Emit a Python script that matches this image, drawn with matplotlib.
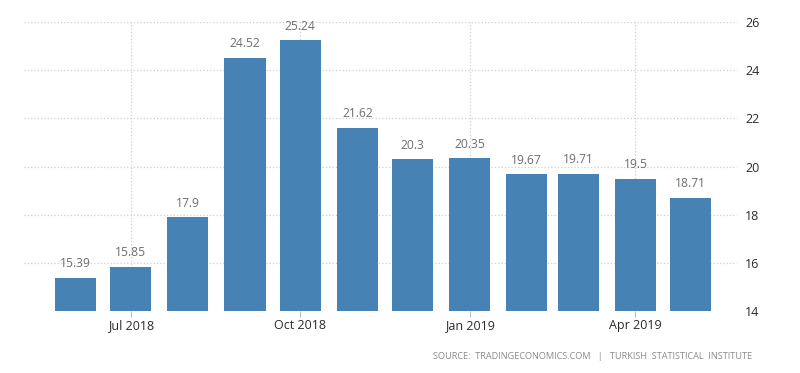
import numpy as np
import matplotlib.pyplot as plt
import matplotlib.dates as mdates
import datetime as dt

months = ["2018-06", "2018-07", "2018-08", "2018-09", "2018-10", "2018-11",
          "2018-12", "2019-01", "2019-02", "2019-03", "2019-04", "2019-05"]
inflation = [15.39, 15.85, 17.9, 24.52, 25.24, 21.62, 20.3, 20.35, 19.67, 19.71, 19.5, 18.71]
value_labels = ["15.39", "15.85", "17.9", "24.52", "25.24", "21.62", "20.3", "20.35",
                "19.67", "19.71", "19.5", "18.71"]
tick_months = ["2018-07", "2018-10", "2019-01", "2019-04"]
tick_labels = ["Jul 2018", "Oct 2018", "Jan 2019", "Apr 2019"]
y_ticks = [14, 16, 18, 20, 22, 24, 26]

plt.rcParams['font.family'] = ['Open Sans', 'DejaVu Sans']

dates = [dt.datetime.strptime(m, "%Y-%m") for m in months]
x = mdates.date2num(dates)
tx = mdates.date2num([dt.datetime.strptime(m, "%Y-%m") for m in tick_months])

fig = plt.figure(figsize=(8, 3.73), dpi=100)
ax = fig.add_axes([0.03, 0.166, 0.891, 0.775])

ax.bar(x, inflation, width=22.3, bottom=0, color='#4682b4', zorder=3)
for xi, v, lab in zip(x, inflation, value_labels):
    ax.text(xi, v + 0.3, lab, ha='center', va='bottom', fontsize=8.7, color='#6e6e6e', zorder=4)

ax.set_ylim(14, 26)
ax.set_xlim(x[0] - 28, x[-1] + 25)
ax.set_yticks(y_ticks)
ax.set_xticks(tx)
ax.set_xticklabels(tick_labels)
ax.yaxis.tick_right()
ax.grid(True, linestyle=':', color='#cfcfcf', linewidth=0.9, zorder=0)
for s in ax.spines.values():
    s.set_visible(False)
ax.tick_params(axis='x', length=4, color='#bbbbbb', labelsize=9, labelcolor='#2a2a2a', pad=2)
ax.tick_params(axis='y', length=0, labelsize=9, labelcolor='#2a2a2a', pad=6)

fig.text(0.94, 0.044, "SOURCE:  TRADINGECONOMICS.COM   |   TURKISH  STATISTICAL  INSTITUTE",
         ha='right', va='center', fontsize=6.6, color='#8a8a8a')

fig.savefig("out.png", dpi=100)
